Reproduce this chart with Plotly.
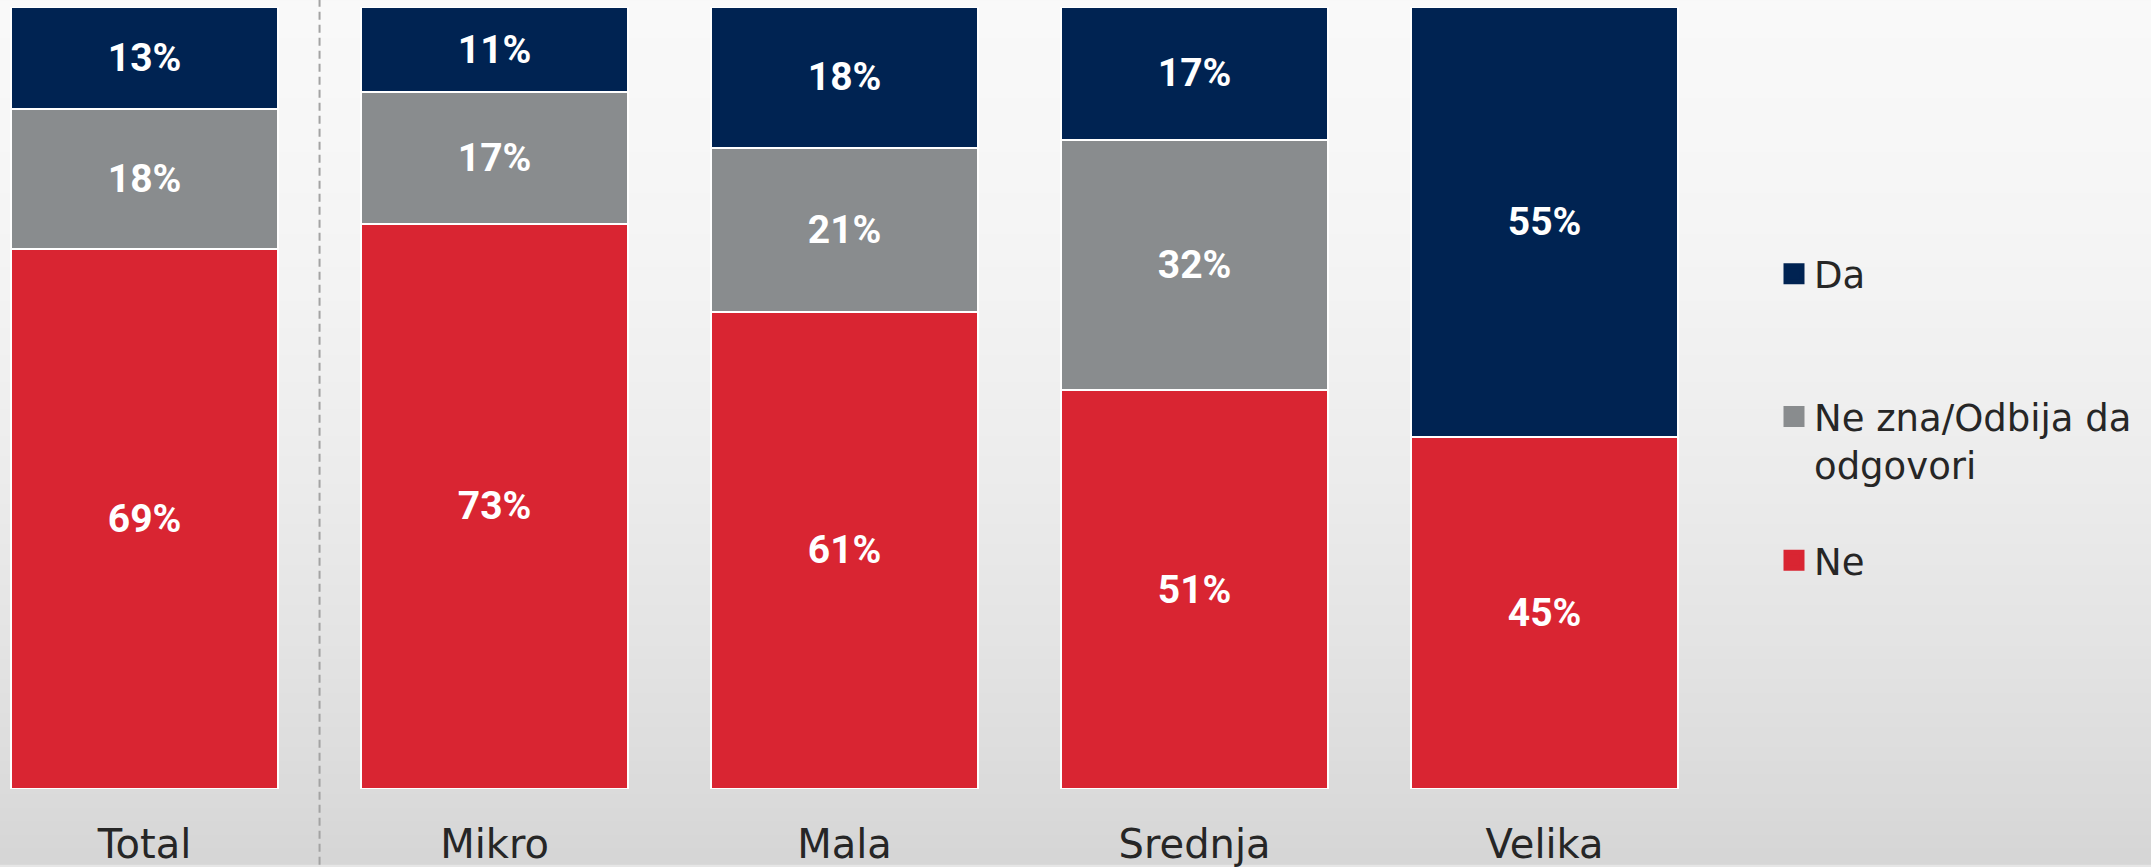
import base64
import struct
import zlib

import plotly.graph_objects as go

# ---- data -------------------------------------------------------------
categories = ["Total", "Mikro", "Mala", "Srednja", "Velika"]
da = [13, 11, 18, 17, 55]
ne_zna = [18, 17, 21, 32, None]   # no "Ne zna" share reported for Velika
ne = [69, 73, 61, 51, 45]

series_names = ["Da", "Ne zna/Odbija da<br>odgovori", "Ne"]
series_colors = ["#002352", "#898c8e", "#d92532"]

# ---- page geometry ----------------------------------------------------
W, H = 2151, 867
M_L, M_R, M_T, M_B = 0, 411, 7, 76
PLOT_W = W - M_L - M_R
PLOT_H = H - M_T - M_B


def px_to_paper_y(p):
    """Convert a page pixel row to a paper y fraction."""
    return (H - M_B - p) / PLOT_H


def px_to_paper_x(p):
    return (p - M_L) / PLOT_W


# ---- soft grey page background (vertical gradient as a tiny PNG) -------
def gradient_png(width, height):
    rows = []
    for j in range(height):
        t = j / (height - 1)
        v = int(round(249 - 10 * t - 25 * t * t))
        rows.append(b"\x00" + bytes([v, v, v]) * width)
    raw = b"".join(rows)

    def chunk(tag, data):
        body = tag + data
        return (struct.pack(">I", len(data)) + body
                + struct.pack(">I", zlib.crc32(body) & 0xFFFFFFFF))

    png = (b"\x89PNG\r\n\x1a\n"
           + chunk(b"IHDR", struct.pack(">IIBBBBB", width, height, 8, 2, 0, 0, 0))
           + chunk(b"IDAT", zlib.compress(raw, 9))
           + chunk(b"IEND", b""))
    return "data:image/png;base64," + base64.b64encode(png).decode()


def pct_labels(values):
    return [f"{v}%" if v else "" for v in values]


fig = go.Figure()

# stacked bars: Ne at the bottom, then Ne zna, then Da on top
for vals, name, color in [(ne, series_names[2], series_colors[2]),
                          (ne_zna, series_names[1], series_colors[1]),
                          (da, series_names[0], series_colors[0])]:
    fig.add_trace(go.Bar(
        x=categories,
        y=vals,
        name=name,
        marker=dict(color=color, line=dict(color="white", width=2)),
        text=pct_labels(vals),
        textposition="inside",
        insidetextanchor="middle",
        textangle=0,
        textfont=dict(family="Roboto", size=39, color="white", weight="bold"),
        showlegend=False,
        hoverinfo="skip",
    ))

# legend entries (one legend box per entry so each can be placed freely)
legend_ids = ["legend", "legend2", "legend3"]
for name, color, lid in zip(series_names, series_colors, legend_ids):
    fig.add_trace(go.Scatter(
        x=[None], y=[None],
        mode="markers",
        name=name,
        marker=dict(symbol="square", size=16, color=color,
                    line=dict(color=color, width=5)),
        legend=lid,
        showlegend=True,
        hoverinfo="skip",
    ))

legend_font = dict(family="DejaVu Sans", size=37, color="#262626")
legend_x = px_to_paper_x(1774)


def legend_box(center_px):
    return dict(
        x=legend_x, xanchor="left",
        y=px_to_paper_y(center_px), yanchor="middle",
        font=legend_font,
        bgcolor="rgba(0,0,0,0)",
        borderwidth=0,
        valign="top",
        itemclick=False, itemdoubleclick=False,
    )


fig.update_layout(
    width=W, height=H,
    autosize=False,
    margin=dict(l=M_L, r=M_R, t=M_T, b=M_B, pad=0),
    barmode="stack",
    barnorm="percent",
    bargap=0.237,
    paper_bgcolor="#e6e6e6",
    plot_bgcolor="rgba(0,0,0,0)",
    legend=legend_box(275),
    legend2=legend_box(442),
    legend3=legend_box(562),
    images=[dict(
        source=gradient_png(4, 128),
        xref="paper", yref="paper",
        x=px_to_paper_x(0), y=px_to_paper_y(0),
        sizex=W / PLOT_W, sizey=H / PLOT_H,
        xanchor="left", yanchor="top",
        sizing="stretch", layer="below",
    )],
    shapes=[dict(
        type="line",
        xref="x", yref="paper",
        x0=0.5, x1=0.5,
        y0=px_to_paper_y(H), y1=px_to_paper_y(0),
        line=dict(color="#a3a3a3", width=2, dash="8px,5px"),
        layer="above",
    )],
    xaxis=dict(
        range=[-0.413, -0.413 + PLOT_W / 350.0],
        showgrid=False, zeroline=False, showline=False,
        ticks="",
        tickfont=dict(family="DejaVu Sans", size=40, color="#262626"),
        ticklabelstandoff=28,
        fixedrange=True,
    ),
    yaxis=dict(
        range=[0, 100],
        visible=False,
        showgrid=False, zeroline=False,
        fixedrange=True,
    ),
    uniformtext=dict(mode=False),
)

fig.write_html("out.html", config={"displayModeBar": False})
